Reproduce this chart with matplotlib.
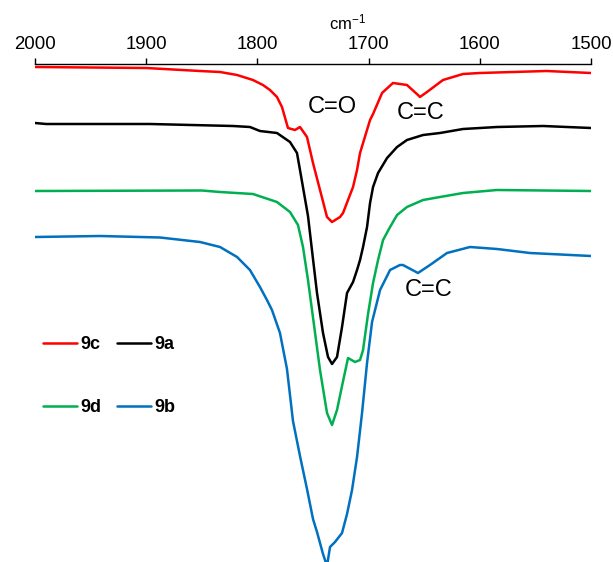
import numpy as np
import matplotlib
matplotlib.use('Agg')
import matplotlib.pyplot as plt

plt.rcParams['font.family'] = ['Liberation Sans', 'DejaVu Sans']
plt.rcParams['mathtext.fontset'] = 'custom'
plt.rcParams['mathtext.rm'] = 'Liberation Sans'
plt.rcParams['mathtext.it'] = 'Liberation Sans'

# IR spectra, offset for clarity; y = depth below the top axis (a.u.)
wn_9c = [2000, 1900, 1851.6, 1833.6, 1818.3, 1804, 1795, 1788.7, 1782.4, 1777.9,
         1772.5, 1766.2, 1761.7, 1755.4, 1750, 1743.7, 1737.4, 1732.9, 1725.7, 1723,
         1718.5, 1714, 1710.4, 1707.7, 1698.7, 1696, 1687.9, 1678.1, 1665.5, 1655.6,
         1653.8, 1647.5, 1633.1, 1615.1, 1600, 1540, 1500]
y_9c = [3, 4, 7, 8, 11, 16, 21, 26, 33, 43,
        64, 66, 63, 73, 99, 126, 153, 158, 153, 149,
        136, 123, 106, 89, 56, 50, 29, 19, 21, 31,
        33, 28, 16, 10, 9, 7, 9]

wn_9a = [2000, 1990, 1896.6, 1821.9, 1806.7, 1797.7, 1782.4, 1770.7, 1764.4, 1761.7,
         1754.5, 1750, 1746.4, 1741, 1736.5, 1732.9, 1728.4, 1723.9, 1719.4, 1714,
         1710.4, 1707.7, 1705, 1701.4, 1698.7, 1696, 1691.5, 1683.4, 1674.4, 1665.5,
         1651, 1635.8, 1615.1, 1584.5, 1543.1, 1500]
y_9a = [59, 60, 60, 62, 63, 67, 69, 78, 89, 106,
        152, 195, 229, 269, 293, 300, 293, 263, 229, 218,
        206, 196, 183, 163, 139, 123, 109, 94, 83, 76,
        71, 69, 65, 63, 62, 64]

wn_9d = [2000, 1850, 1833.6, 1804, 1782.4, 1770.7, 1763.5, 1759, 1754.5, 1750.9,
         1743.7, 1737.4, 1732.9, 1728.4, 1723.9, 1718.5, 1712.2, 1707.7, 1705, 1700.5,
         1696, 1691.5, 1687, 1680.7, 1674.4, 1665.5, 1651, 1635.8, 1615.1, 1584.5, 1500]
y_9d = [127, 126.5, 128, 130, 138, 148, 161, 183, 216, 246,
        306, 349, 361, 346, 322, 294, 298, 296, 286, 250,
        219, 196, 176, 163, 151, 143, 136, 133, 129, 126, 127]

wn_9b = [2000, 1941.5, 1887.6, 1851.6, 1833.6, 1818.3, 1806.7, 1797.7, 1791.4, 1786.9,
         1779.7, 1773.4, 1768, 1761.7, 1755.4, 1750, 1746.4, 1741, 1737.4, 1734.7,
         1730.2, 1723.9, 1719.4, 1714.9, 1710.4, 1705.9, 1701.4, 1696.9, 1689.7, 1680.7,
         1671.8, 1669.1, 1655.6, 1644.8, 1629.5, 1608.8, 1584.5, 1554.9, 1500]
y_9b = [173, 172, 173.5, 178, 183, 193, 206, 223, 236, 246,
        269, 305, 357, 392, 425, 455, 468, 490, 502, 483,
        478, 469, 450, 426, 393, 349, 299, 258, 226, 206,
        201, 201, 209, 201, 189, 183, 185, 189, 192]

series = [
    ('9c', wn_9c, y_9c, '#ff0000'),
    ('9a', wn_9a, y_9a, '#000000'),
    ('9d', wn_9d, y_9d, '#00b050'),
    ('9b', wn_9b, y_9b, '#0070c0'),
]

fig = plt.figure(figsize=(6.13, 5.62), dpi=100)
ax = fig.add_axes([35 / 613, 0, 556 / 613, 1 - 64 / 562])

lines = {}
for name, wn, y, col in series:
    lines[name], = ax.plot(wn, y, color=col, lw=1.8, label=name,
                           solid_joinstyle='round', solid_capstyle='round')

ax.set_xlim(2000, 1500)
ax.set_ylim(498, 0)
ax.set_xticks(np.arange(2000, 1499, -100))
ax.xaxis.tick_top()
ax.tick_params(axis='x', direction='out', length=4, width=1, labelsize=13.4, pad=4)
ax.set_yticks([])
for s in ['bottom', 'left', 'right']:
    ax.spines[s].set_visible(False)
ax.spines['top'].set_linewidth(1)

fig.text(348 / 613, 1 - 22 / 562, r'cm$^{-1}$', ha='center', va='center', fontsize=12)

ax.text(1733, 43, 'C=O', ha='center', va='center', fontsize=17)
ax.text(1653, 49, 'C=C', ha='center', va='center', fontsize=17)
ax.text(1646, 226, 'C=C', ha='center', va='center', fontsize=17)

order = ['9c', '9d', '9a', '9b']
ax.legend([lines[k] for k in order], order, ncol=2, frameon=False,
          loc='center left', bbox_to_anchor=(43 / 613, 1 - 376 / 562),
          bbox_transform=fig.transFigure,
          prop={'weight': 'bold', 'size': 13},
          handlelength=1.9, handletextpad=0.17, columnspacing=0.85,
          labelspacing=2.55, borderpad=0, borderaxespad=0)

fig.savefig('out.png', dpi=100)
